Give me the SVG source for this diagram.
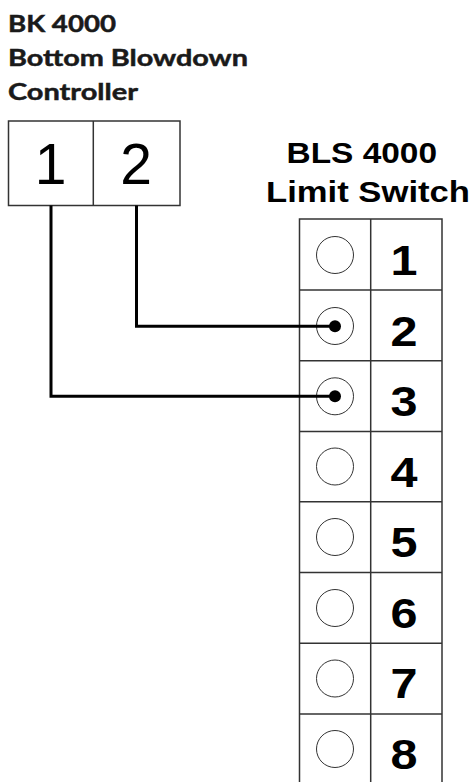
<svg xmlns="http://www.w3.org/2000/svg" width="474" height="782" viewBox="0 0 474 782">
<style>
.lbl{font-family:Lato,"Open Sans","Liberation Sans",sans-serif;font-weight:bold;font-size:23.5px;fill:#1a1a1a;stroke:#1a1a1a;stroke-width:0.5}
.ttl{font-family:"Liberation Sans",Arial,sans-serif;font-weight:bold;font-size:30px;fill:#000}
.cn{font-family:"Liberation Sans",Arial,sans-serif;font-size:57px;fill:#000;text-anchor:middle}
.sn{font-family:"Liberation Sans",Arial,sans-serif;font-weight:bold;font-size:43px;fill:#000;text-anchor:middle}
.box{fill:#fff;stroke:#333;stroke-width:1.5}
.hole{fill:#fff;stroke:#333;stroke-width:1}
.wire{fill:none;stroke:#000;stroke-width:3}
</style>
<rect width="474" height="782" fill="#fff"/>
<g id="controller">
<text class="lbl" x="8" y="31.7" textLength="108" lengthAdjust="spacingAndGlyphs">BK 4000</text>
<text class="lbl" x="8" y="66" textLength="240" lengthAdjust="spacingAndGlyphs">Bottom Blowdown</text>
<text class="lbl" x="8" y="100" textLength="130" lengthAdjust="spacingAndGlyphs">Controller</text>
<rect class="box" x="8.5" y="121" width="171.5" height="84.5"/>
<line class="box" x1="93.3" y1="121" x2="93.3" y2="205.5"/>
<text class="cn" x="50.5" y="184.3">1</text>
<text class="cn" x="136" y="184.3">2</text>
</g>
<g id="limit-switch">
<text class="ttl" x="286.5" y="163" textLength="150.5" lengthAdjust="spacingAndGlyphs">BLS 4000</text>
<text class="ttl" x="266" y="201.7" textLength="204" lengthAdjust="spacingAndGlyphs">Limit Switch</text>
<rect class="box" x="299.5" y="219" width="142.5" height="566"/>
<line class="box" x1="370.7" y1="219" x2="370.7" y2="785"/>
<line class="box" x1="299.5" y1="290" x2="442" y2="290"/>
<line class="box" x1="299.5" y1="360.7" x2="442" y2="360.7"/>
<line class="box" x1="299.5" y1="431.5" x2="442" y2="431.5"/>
<line class="box" x1="299.5" y1="501.8" x2="442" y2="501.8"/>
<line class="box" x1="299.5" y1="572.4" x2="442" y2="572.4"/>
<line class="box" x1="299.5" y1="643.2" x2="442" y2="643.2"/>
<line class="box" x1="299.5" y1="714" x2="442" y2="714"/>
<circle class="hole" cx="335" cy="255" r="18.5"/>
<circle class="hole" cx="335" cy="326" r="18.5"/>
<circle class="hole" cx="335" cy="396.3" r="18.5"/>
<circle class="hole" cx="335" cy="466.5" r="18.5"/>
<circle class="hole" cx="335" cy="537" r="18.5"/>
<circle class="hole" cx="335" cy="608" r="18.5"/>
<circle class="hole" cx="335" cy="678.5" r="18.5"/>
<circle class="hole" cx="335" cy="749" r="18.5"/>
<text class="sn" x="404" y="275" textLength="27" lengthAdjust="spacingAndGlyphs">1</text>
<text class="sn" x="404" y="345.5" textLength="27" lengthAdjust="spacingAndGlyphs">2</text>
<text class="sn" x="404" y="416" textLength="27" lengthAdjust="spacingAndGlyphs">3</text>
<text class="sn" x="404" y="486.5" textLength="27" lengthAdjust="spacingAndGlyphs">4</text>
<text class="sn" x="404" y="557" textLength="27" lengthAdjust="spacingAndGlyphs">5</text>
<text class="sn" x="404" y="627.5" textLength="27" lengthAdjust="spacingAndGlyphs">6</text>
<text class="sn" x="404" y="698" textLength="27" lengthAdjust="spacingAndGlyphs">7</text>
<text class="sn" x="404" y="768.5" textLength="27" lengthAdjust="spacingAndGlyphs">8</text>
</g>
<g id="connectors">
<polyline class="wire" points="136.5,205.5 136.5,326.3 335,326.3"/>
<polyline class="wire" points="51,205.5 51,396.3 335,396.3"/>
<circle cx="335" cy="326.3" r="6" fill="#000"/>
<circle cx="335" cy="396.3" r="6" fill="#000"/>
</g>
</svg>
